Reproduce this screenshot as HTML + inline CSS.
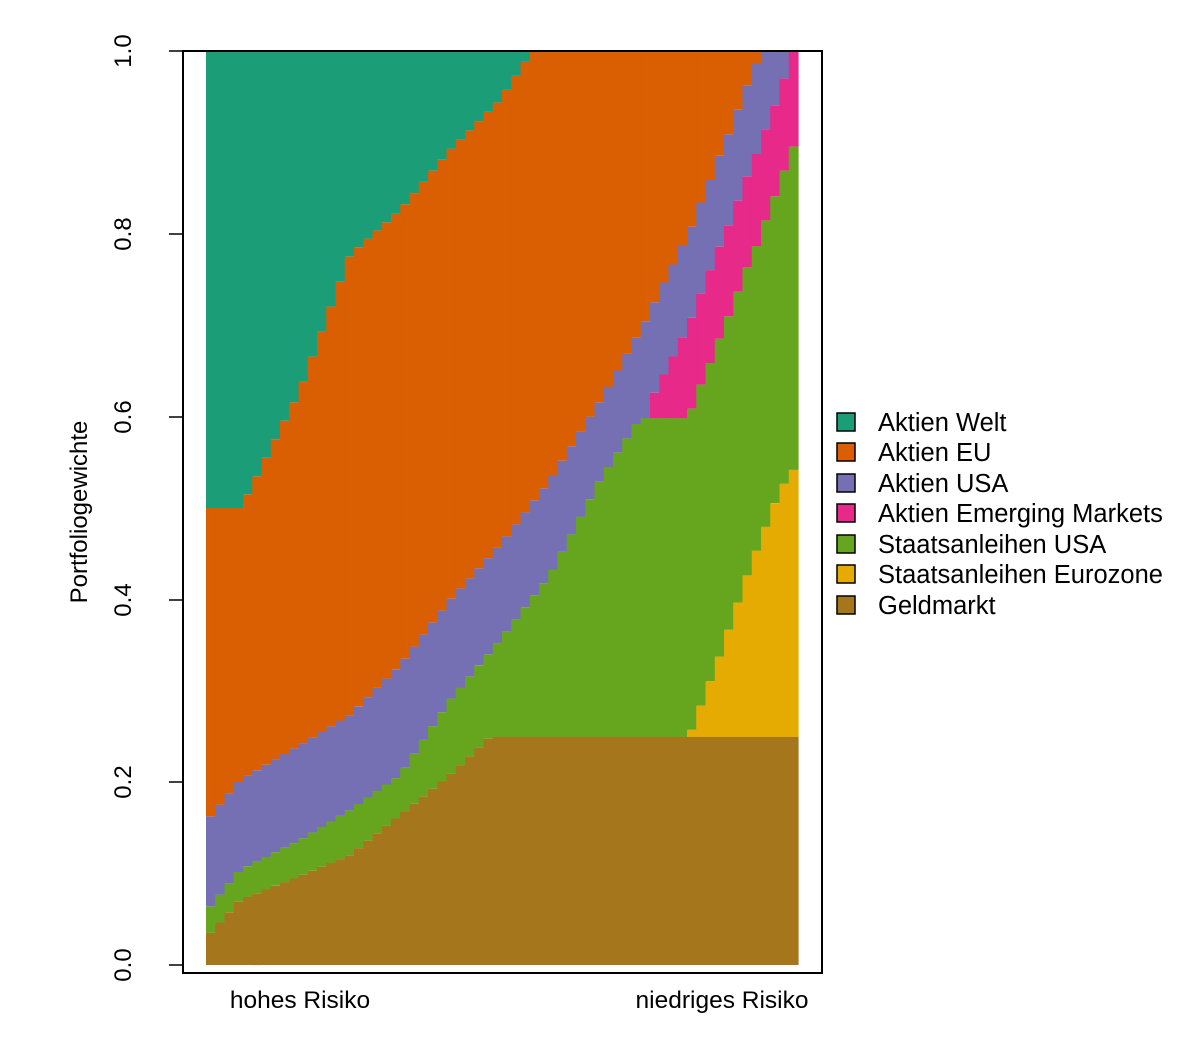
<!DOCTYPE html>
<html><head><meta charset="utf-8"><style>body{margin:0;background:#fff}svg{display:block}text{font-family:"Liberation Sans",sans-serif}</style></head>
<body>
<svg id="s" width="1200" height="1061" xmlns="http://www.w3.org/2000/svg">
<g id="bars"></g>
<rect x="183" y="51" width="639" height="922" fill="none" stroke="#000" stroke-width="2"/>
<g stroke="#000" stroke-width="1.5">
<line x1="183" y1="51" x2="183" y2="965"/>
<line x1="169" y1="965" x2="183" y2="965"/><line x1="169" y1="782" x2="183" y2="782"/><line x1="169" y1="600" x2="183" y2="600"/><line x1="169" y1="417" x2="183" y2="417"/><line x1="169" y1="234" x2="183" y2="234"/><line x1="169" y1="51" x2="183" y2="51"/>
</g>
<g font-size="24" text-anchor="middle">
<text transform="translate(131,965) rotate(-90)">0.0</text>
<text transform="translate(131,782) rotate(-90)">0.2</text>
<text transform="translate(131,600) rotate(-90)">0.4</text>
<text transform="translate(131,417) rotate(-90)">0.6</text>
<text transform="translate(131,234) rotate(-90)">0.8</text>
<text transform="translate(131,51) rotate(-90)">1.0</text>
<text transform="translate(87,512) rotate(-90)" font-size="24">Portfoliogewichte</text>
<text x="300" y="1008" font-size="24.5">hohes Risiko</text>
<text x="722" y="1008" font-size="24.5">niedriges Risiko</text>
</g>
<g stroke="#000" stroke-width="1.5">
<rect x="837" y="413" width="18" height="18" fill="#1B9E77"/>
<rect x="837" y="443" width="18" height="18" fill="#D95F02"/>
<rect x="837" y="474" width="18" height="18" fill="#7570B3"/>
<rect x="837" y="504" width="18" height="18" fill="#E7298A"/>
<rect x="837" y="535" width="18" height="18" fill="#66A61E"/>
<rect x="837" y="565" width="18" height="18" fill="#E6AB02"/>
<rect x="837" y="596" width="18" height="18" fill="#A6761D"/>
</g>
<g font-size="25.5">
<text x="878" y="431">Aktien Welt</text>
<text x="878" y="461">Aktien EU</text>
<text x="878" y="492">Aktien USA</text>
<text x="878" y="522">Aktien Emerging Markets</text>
<text x="878" y="553">Staatsanleihen USA</text>
<text x="878" y="583">Staatsanleihen Eurozone</text>
<text x="878" y="614">Geldmarkt</text>
</g>
</svg>
<script>
function pl(pts,x){if(x<=pts[0][0])return pts[0][1];for(let i=1;i<pts.length;i++){if(x<=pts[i][0]){const a=pts[i-1],b=pts[i];return a[1]+(b[1]-a[1])*(x-a[0])/(b[0]-a[0]);}}return pts[pts.length-1][1];}
const geld=[[206,938],[215,928],[240,900],[300,876],[350,855],[400,815],[450,775],[490,737],[798,737]];
const euro=[[206,2000],[686,2000],[690,734],[700,708],[720,655],[750,567],[780,490],[798,463]];
const usaB=[[206,912],[240,870],[300,840],[350,810],[400,775],[450,700],[500,640],[550,575],[600,480],[640,418],[685,418],[690,413],[699,389],[709,366],[718,342],[728,318],[737,294],[746,270],[756,247],[765,222],[775,196],[784,171],[794,145],[798,145]];
const em=[[206,2000],[647,2000],[652,398],[661,380],[671,361],[680,342],[690,322],[699,298],[709,273],[718,250],[728,227],[737,203],[746,179],[756,155],[765,131],[775,105],[784,79],[793,51],[798,51]];
const usa=[[206,822],[240,780],[300,745],[350,715],[400,665],[450,600],[500,545],[550,480],[605,393],[614,377],[624,359],[633,343],[643,326],[652,308],[661,288],[671,269],[680,250],[690,231],[699,207],[709,183],[718,159],[728,136],[737,112],[746,88],[756,64],[765,51],[798,51]];
const eu=[[206,508],[240,508],[250,490],[300,390],[350,255],[400,210],[450,150],[500,100],[525,62],[535,51],[798,51]];
const cols=['#A6761D','#E6AB02','#66A61E','#E7298A','#7570B3','#D95F02','#1B9E77'];
let h='';const n=64,w=(798-206)/n;
for(let i=0;i<n;i++){const x0=206+i*w,xc=x0+w/2;
 let b=[965];let g=pl(geld,xc);b.push(g);let e=Math.min(g,pl(euro,xc));b.push(e);let u=Math.min(e,pl(usaB,xc));b.push(u);
 let m=Math.min(u,pl(em,xc));b.push(m);let a=Math.min(m,pl(usa,xc));b.push(a);let k=Math.min(a,pl(eu,xc));b.push(k);b.push(51);
 for(let j=0;j<7;j++){const y1=b[j+1],y0=b[j];if(y0-y1>0.1)h+=`<rect x="${x0.toFixed(2)}" y="${y1.toFixed(1)}" width="${(w+0.6).toFixed(2)}" height="${(y0-y1).toFixed(1)}" fill="${cols[j]}"/>`;}}
document.getElementById('bars').innerHTML=h;
</script>
</body></html>
